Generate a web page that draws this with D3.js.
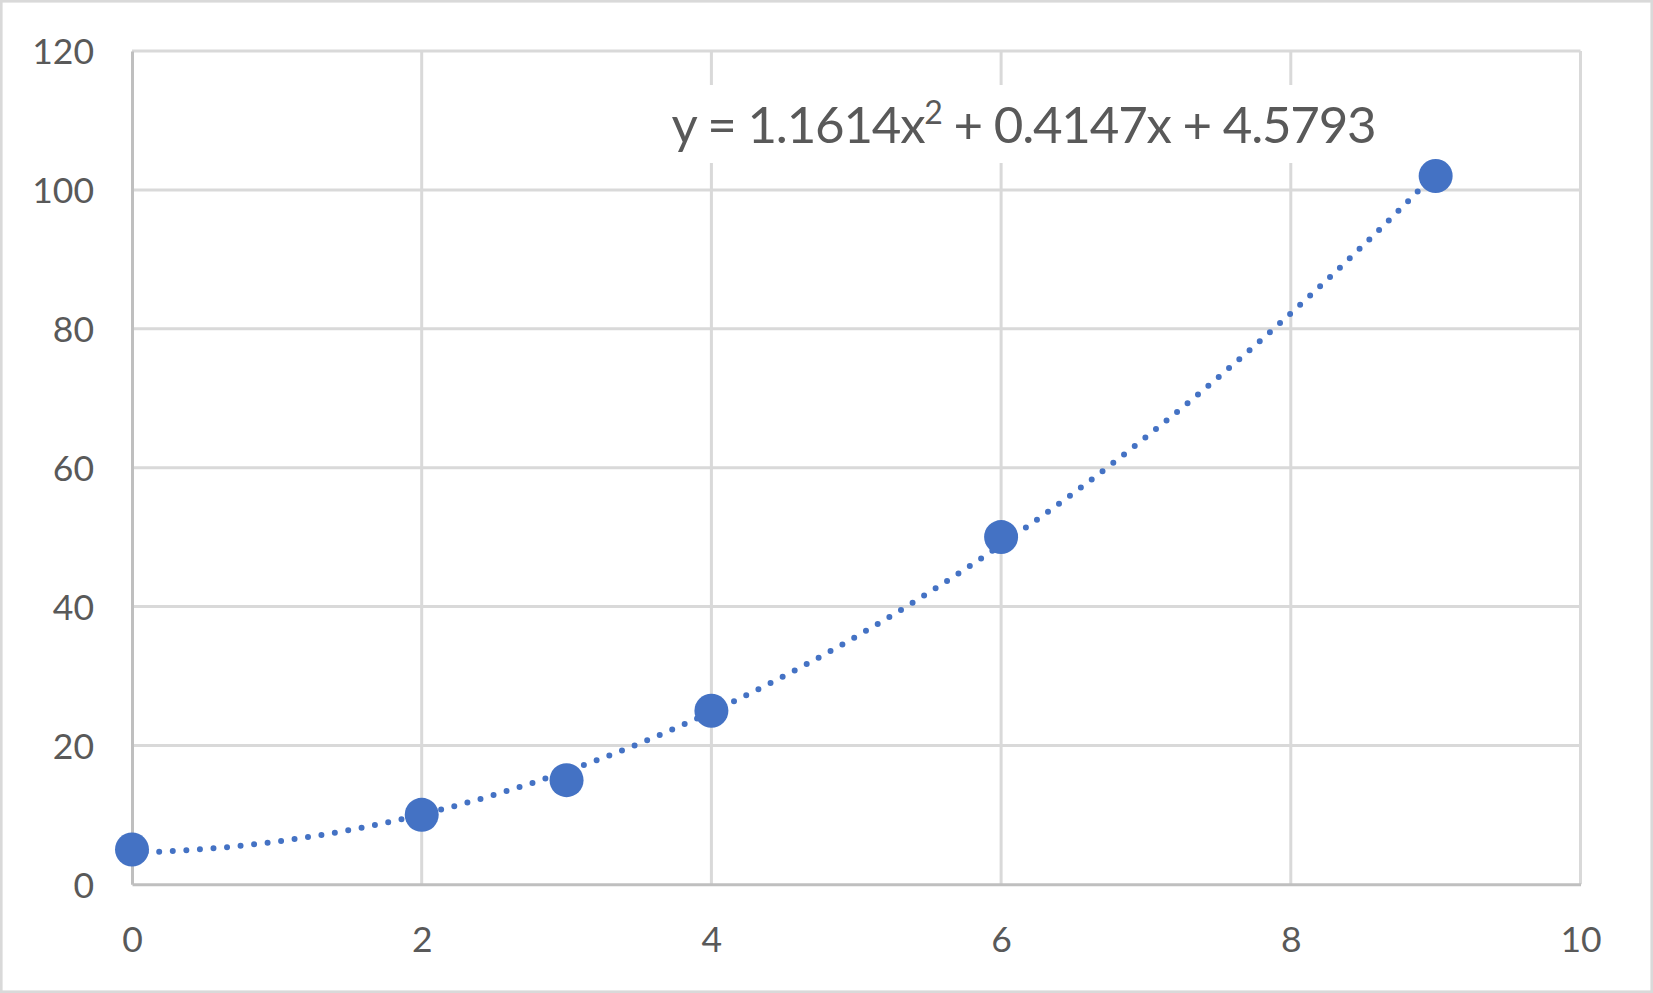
<!DOCTYPE html>
<html>
<head>
<meta charset="utf-8">
<script src="https://cdn.jsdelivr.net/npm/d3@7"></script>
<style>
  body { margin: 0; background: #fff; }
  text { font-family: Lato, "Open Sans", sans-serif; fill: #595959; }
</style>
</head>
<body>
<div id="chart"></div>
<script>
// data
const xValues = [0, 2, 3, 4, 6, 9];
const yValues = [5, 10, 15, 25, 50, 102];
const xTicks = [0, 2, 4, 6, 8, 10];
const yTicks = [0, 20, 40, 60, 80, 100, 120];
// polynomial trendline coefficients (c0, c1, c2), as printed on the chart
const trendCoef = [4.5793, 0.4147, 1.1614];

const width = 1653, height = 993;
const margin = {top: 51, right: 72.5, bottom: 108.7, left: 132};

const svg = d3.select("#chart").append("svg")
    .attr("width", width)
    .attr("height", height);

// outer chart border
svg.append("rect")
    .attr("x", 1.3).attr("y", 1.3)
    .attr("width", width - 2.6).attr("height", height - 2.6)
    .attr("fill", "#fff")
    .attr("stroke", "#d9d9d9")
    .attr("stroke-width", 2.6);

const x = d3.scaleLinear().domain([0, 10]).range([margin.left, width - margin.right]);
const y = d3.scaleLinear().domain([0, 120]).range([height - margin.bottom, margin.top]);

// gridlines
svg.append("g")
    .selectAll("line.h")
    .data(yTicks.slice(1))
    .enter().append("line")
    .attr("x1", x(0)).attr("x2", x(10))
    .attr("y1", d => y(d)).attr("y2", d => y(d))
    .style("stroke", "#d9d9d9").style("stroke-width", 3);

svg.append("g")
    .selectAll("line.v")
    .data(xTicks.slice(1))
    .enter().append("line")
    .attr("x1", d => x(d)).attr("x2", d => x(d))
    .attr("y1", y(0)).attr("y2", y(120))
    .style("stroke", "#d9d9d9").style("stroke-width", 3);

// axes (no ticks, just the line and labels)
const xAxis = svg.append("g")
    .attr("transform", "translate(0," + y(0) + ")")
    .call(d3.axisBottom(x).tickValues(xTicks).tickSize(0).tickPadding(42));
const yAxis = svg.append("g")
    .attr("transform", "translate(" + x(0) + ",0)")
    .call(d3.axisLeft(y).tickValues(yTicks).tickSize(0).tickPadding(38));

[xAxis, yAxis].forEach(a => {
    a.select(".domain").attr("stroke", "#bfbfbf").attr("stroke-width", 3);
    a.selectAll("text")
        .style("font-family", "Lato, 'Open Sans', sans-serif")
        .style("font-size", "35.5px")
        .attr("fill", "#595959");
});
xAxis.selectAll("text").attr("dy", "0.72em");
yAxis.selectAll("text").attr("dy", "0.36em");

// trendline
const trend = t => trendCoef[0] + trendCoef[1] * t + trendCoef[2] * t * t;
const trendPts = d3.range(0, 9.0001, 0.05).map(t => [t, trend(t)]);
svg.append("path")
    .datum(trendPts)
    .attr("d", d3.line().x(d => x(d[0])).y(d => y(d[1])))
    .attr("fill", "none")
    .attr("stroke", "#4472c4")
    .attr("stroke-width", 6)
    .attr("stroke-linecap", "round")
    .attr("stroke-dasharray", "0 13.6");

// points
svg.append("g")
    .selectAll("circle")
    .data(xValues.map((d, i) => [d, yValues[i]]))
    .enter().append("circle")
    .attr("cx", d => x(d[0]))
    .attr("cy", d => y(d[1]))
    .attr("r", 17)
    .style("fill", "#4472c4");

// equation label, on a white box that hides the gridlines behind it
const labelBox = svg.append("rect")
    .attr("fill", "#fff");
const eq = svg.append("text")
    .attr("x", 671.5)
    .attr("y", 143)
    .style("font-size", "51px");
eq.append("tspan").text("y = " + trendCoef[2] + "x");
eq.append("tspan").attr("dy", -19).style("font-size", "32px").text("2");
eq.append("tspan").attr("dy", 19).text(" + " + trendCoef[1] + "x + " + trendCoef[0]);

// squeeze the letters a little so the label spans the same width as in the picture
const targetW = 704;
const nChars = eq.text().length;
const w0 = eq.node().getComputedTextLength();
eq.style("letter-spacing", ((targetW - w0) / nChars) + "px");

labelBox
    .attr("x", 660).attr("y", 85)
    .attr("width", targetW + 26).attr("height", 78);
</script>
</body>
</html>
